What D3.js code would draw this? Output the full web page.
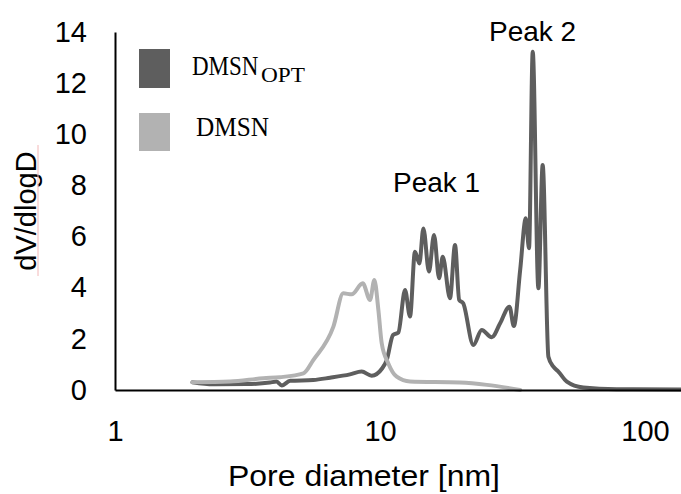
<!DOCTYPE html>
<html>
<head>
<meta charset="utf-8">
<script src="https://cdn.jsdelivr.net/npm/d3@7"></script>
<style>
  body { margin: 0; background: #fff; }
  svg { display: block; }
</style>
</head>
<body>
<div class="center"></div>
<script>
// pore diameters (nm) and dV/dlogD
const optDiam = [1.96, 2.35, 3.14, 3.84, 4.07, 4.26, 4.58, 5.6, 6.48, 7.7, 8.53, 9.3, 10.2, 10.6, 11.2, 11.73,
                 12.43, 12.98, 13.55, 14.08, 14.58, 15.3, 15.99, 16.71, 17.25, 18.37, 19.19, 19.9, 20.6, 22.5,
                 24.2, 26.4, 28.4, 30.8, 32.0, 33.8, 35.5, 36.5, 37.7, 39.6, 41.1, 43.2, 45.1, 47.1, 50.7,
                 58.5, 78.2, 140];
const optValue = [0.30, 0.22, 0.23, 0.29, 0.33, 0.18, 0.36, 0.39, 0.48, 0.61, 0.72, 0.56, 0.85, 1.17, 2.15, 2.25,
                  3.91, 2.87, 5.41, 4.95, 6.32, 4.63, 6.06, 4.37, 5.21, 3.59, 5.67, 3.52, 3.39, 1.76,
                  2.35, 2.06, 2.61, 3.26, 2.50, 4.69, 6.72, 5.54, 13.23, 3.98, 8.80, 1.30, 0.91, 0.72, 0.33,
                  0.10, 0.03, 0.02];

const dmsnDiam = [1.96, 2.72, 3.63, 4.19, 5.14, 5.6, 6.67, 7.27, 7.82, 8.61, 9.17, 9.52, 9.86, 10.15, 10.75,
                  11.56, 12.98, 20.0, 25.3, 33.8];
const dmsnValue = [0.30, 0.33, 0.46, 0.50, 0.65, 1.17, 2.48, 3.78, 3.74, 4.17, 3.52, 4.30, 3.13, 1.83, 1.04,
                   0.52, 0.33, 0.29, 0.20, 0.0];

const xTicks = [1, 10, 100];
const yTicks = [0, 2, 4, 6, 8, 10, 12, 14];

const darkGrey = "#5e5e5e";
const lightGrey = "#b2b2b2";

const W = 681, H = 494;
const margin = {top: 32, left: 115, bottom: 104};

const svg = d3.select(".center").append("svg")
    .attr("width", W)
    .attr("height", H);

// log x axis: one decade is about 265 px
const xScale = d3.scaleLog()
    .domain([1, 1000])
    .range([margin.left, margin.left + 3 * 265]);
const yScale = d3.scaleLinear()
    .domain([0, 14])
    .range([H - margin.bottom, margin.top]);

const valueline = d3.line()
    .x(d => xScale(d[0]))
    .y(d => yScale(d[1]))
    .curve(d3.curveMonotoneX);

const optData = optDiam.map((d, i) => [d, optValue[i]]);
const dmsnData = dmsnDiam.map((d, i) => [d, dmsnValue[i]]);

svg.append("path")
    .datum(optData)
    .attr("d", valueline)
    .attr("fill", "none")
    .attr("stroke", darkGrey)
    .attr("stroke-width", 4)
    .attr("stroke-linejoin", "round")
    .attr("stroke-linecap", "round");

svg.append("path")
    .datum(dmsnData)
    .attr("d", valueline)
    .attr("fill", "none")
    .attr("stroke", lightGrey)
    .attr("stroke-width", 4)
    .attr("stroke-linejoin", "round")
    .attr("stroke-linecap", "round");

// axes
const xAxis = d3.axisBottom(xScale)
    .tickValues(xTicks)
    .tickSize(0)
    .tickPadding(30)
    .tickFormat(d3.format("d"));

const yAxis = d3.axisLeft(yScale)
    .tickValues(yTicks)
    .tickSize(0)
    .tickPadding(28);

const gx = svg.append("g")
    .attr("transform", `translate(0,${yScale(0)})`)
    .call(xAxis);
const gy = svg.append("g")
    .attr("transform", `translate(${margin.left},0)`)
    .call(yAxis);

[gx, gy].forEach(g => {
  g.select(".domain").attr("stroke", "#000").attr("stroke-width", 2);
  g.selectAll("text")
    .style("font-family", "'Liberation Sans', Arial, sans-serif")
    .style("font-size", "29px")
    .attr("fill", "#000");
});

// axis titles
svg.append("text")
    .attr("x", 364)
    .attr("y", 486)
    .attr("text-anchor", "middle")
    .attr("textLength", 272)
    .attr("lengthAdjust", "spacingAndGlyphs")
    .style("font-family", "'Liberation Sans', Arial, sans-serif")
    .style("font-size", "29px")
    .text("Pore diameter [nm]");

svg.append("text")
    .attr("transform", "translate(36,211) rotate(-90)")
    .attr("text-anchor", "middle")
    .style("font-family", "'Liberation Sans', Arial, sans-serif")
    .style("font-size", "29px")
    .text("dV/dlogD");

// faint spell-check underline
svg.append("line")
    .attr("x1", 38).attr("x2", 38)
    .attr("y1", 145).attr("y2", 276)
    .attr("stroke", "#f3b8b8")
    .attr("stroke-width", 1);

// peak labels
svg.append("text")
    .attr("x", 393).attr("y", 192)
    .style("font-family", "'Liberation Sans', Arial, sans-serif")
    .style("font-size", "28px")
    .text("Peak 1");
svg.append("text")
    .attr("x", 489).attr("y", 41)
    .style("font-family", "'Liberation Sans', Arial, sans-serif")
    .style("font-size", "28px")
    .text("Peak 2");

// legend
svg.append("rect")
    .attr("x", 139).attr("y", 49)
    .attr("width", 31).attr("height", 39)
    .style("fill", darkGrey);
svg.append("rect")
    .attr("x", 139).attr("y", 113)
    .attr("width", 31).attr("height", 38)
    .style("fill", lightGrey);

// the legend font is a narrow serif, so stretch it a bit vertically
svg.append("text")
    .attr("transform", "translate(192,75) scale(1,1.2)")
    .style("font-family", "'Liberation Serif', serif")
    .style("font-size", "23px")
    .text("DMSN");
svg.append("text")
    .attr("transform", "translate(261,82) scale(1,1.1)")
    .attr("textLength", 44)
    .attr("lengthAdjust", "spacingAndGlyphs")
    .style("font-family", "'Liberation Serif', serif")
    .style("font-size", "19px")
    .text("OPT");
svg.append("text")
    .attr("transform", "translate(196,136) scale(1,1.12)")
    .attr("textLength", 73)
    .attr("lengthAdjust", "spacingAndGlyphs")
    .style("font-family", "'Liberation Serif', serif")
    .style("font-size", "24px")
    .text("DMSN");
</script>
</body>
</html>
